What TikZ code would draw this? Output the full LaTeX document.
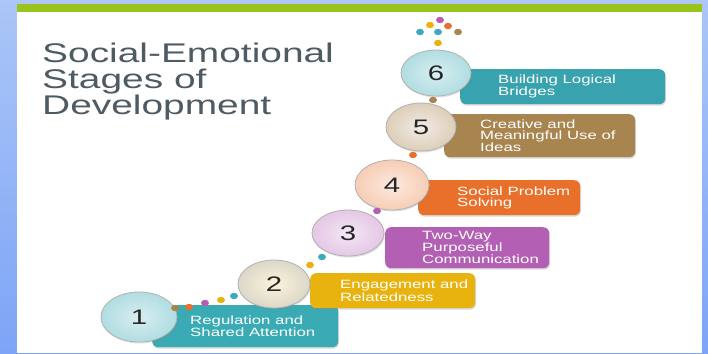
\documentclass[tikz,border=0pt]{standalone}
\usepackage{fontspec}
\setmainfont[FakeStretch=1.4]{Liberation Sans}
\newfontfamily\titlefont[FakeStretch=1.44]{Liberation Sans}
\usetikzlibrary{shapes.geometric,positioning,shadows}
\definecolor{frametop}{HTML}{ABC6F7}
\definecolor{framebottom}{HTML}{7DA4F6}
\definecolor{bargreen}{HTML}{9AC41C}
\definecolor{titlegrey}{HTML}{4F5B63}
\definecolor{stageteal}{HTML}{3AAAB5}
\definecolor{stagegold}{HTML}{E8B30E}
\definecolor{stagepurple}{HTML}{B35FB4}
\definecolor{stageorange}{HTML}{E8702A}
\definecolor{stagebrown}{HTML}{A8844F}
\definecolor{dotcyan}{HTML}{3DA9C0}

\begin{document}
\begin{tikzpicture}[x=1pt,y=-1pt,
    stagebox/.style={rectangle,rounded corners=6pt,anchor=north west,inner sep=0pt,
      drop shadow={opacity=0.3,shadow xshift=0.8pt,shadow yshift=-1.5pt}},
    boxtext/.style={inner sep=0pt,align=left,text=white,font=\fontsize{12}{11}\selectfont},
    stagecircle/.style={ellipse,draw=gray!60,line width=0.8pt,inner sep=0pt,text=black!85,
      font=\fontsize{21}{21}\selectfont,
      drop shadow={opacity=0.25,shadow xshift=0.8pt,shadow yshift=-1.5pt}},
    titletext/.style={inner sep=0pt,align=left,text=titlegrey,font=\titlefont\fontsize{27}{26}\selectfont}]
  % frame
  \useasboundingbox (0,0) rectangle (708,353);
  \shade[top color=frametop,bottom color=framebottom] (0,0) rectangle (708,353);
  \fill[white] (17,12) rectangle (702,353);
  \fill[bargreen] (17,4) rectangle (702,12);
  % title
  \node[titletext,anchor=north west] (title) at (42,43) {Social-Emotional\\Stages of\\Development};
  % stage boxes
  \node[stagebox,fill=stageteal,minimum width=186pt,minimum height=42pt] (b1) at (152,305) {};
  \node[stagebox,fill=stagegold,minimum width=165pt,minimum height=35pt] (b2) at (310,273) {};
  \node[stagebox,fill=stagepurple,minimum width=164pt,minimum height=41pt] (b3) at (385,227) {};
  \node[stagebox,fill=stageorange,minimum width=162pt,minimum height=35pt] (b4) at (418,180) {};
  \node[stagebox,fill=stagebrown,minimum width=191pt,minimum height=43pt] (b5) at (444,114) {};
  \node[stagebox,fill=stageteal!96!black,minimum width=205pt,minimum height=35pt] (b6) at (460,69) {};
  \node[boxtext,right=38pt of b1.west] (t1) {Regulation and\\Shared Attention};
  \node[boxtext,right=30pt of b2.west] (t2) {Engagement and\\Relatedness};
  \node[boxtext,right=37pt of b3.west] (t3) {Two-Way\\Purposeful\\Communication};
  \node[boxtext,right=39pt of b4.west] (t4) {Social Problem\\Solving};
  \node[boxtext,right=36pt of b5.west] (t5) {Creative and\\Meaningful Use of\\Ideas};
  \node[boxtext,right=38pt of b6.west] (t6) {Building Logical\\Bridges};
  % stage numbers
  \node[stagecircle,inner color=white!80!stageteal,outer color=stageteal!40!white,
    minimum width=76pt,minimum height=50pt] (c1) at (139,317) {1};
  \node[stagecircle,inner color=white!85!stagegold,outer color=stagegold!25!gray!35!white,
    minimum width=72pt,minimum height=48pt] (c2) at (274,284) {2};
  \node[stagecircle,inner color=white!85!stagepurple,outer color=stagepurple!35!white,
    minimum width=72pt,minimum height=46pt] (c3) at (348,233) {3};
  \node[stagecircle,inner color=white!85!stageorange,outer color=stageorange!35!white,
    minimum width=74pt,minimum height=50pt] (c4) at (392,185) {4};
  \node[stagecircle,inner color=white!85!stagebrown,outer color=stagebrown!40!white,
    minimum width=70pt,minimum height=48pt] (c5) at (421,127) {5};
  \node[stagecircle,inner color=white!80!stageteal,outer color=stageteal!40!white,
    minimum width=70pt,minimum height=46pt] (c6) at (436,73) {6};
  % dots
  \foreach \x/\y/\c in {175/308/stagebrown,189/307/stageorange,205/303/stagepurple,
      221/300/stagegold,234/296/dotcyan,310/265/stagegold,322/257/dotcyan,
      377/211/stagepurple,413/155/stageorange,433/100/stagebrown,438/43/stagegold,
      420/32/dotcyan,438/32/dotcyan,458/32/stagebrown,430/25/stagegold,
      448/26/stageorange,440/20/stagepurple}
    \fill[\c] (\x,\y) ellipse [x radius=4pt,y radius=3.2pt];
\end{tikzpicture}
\end{document}
